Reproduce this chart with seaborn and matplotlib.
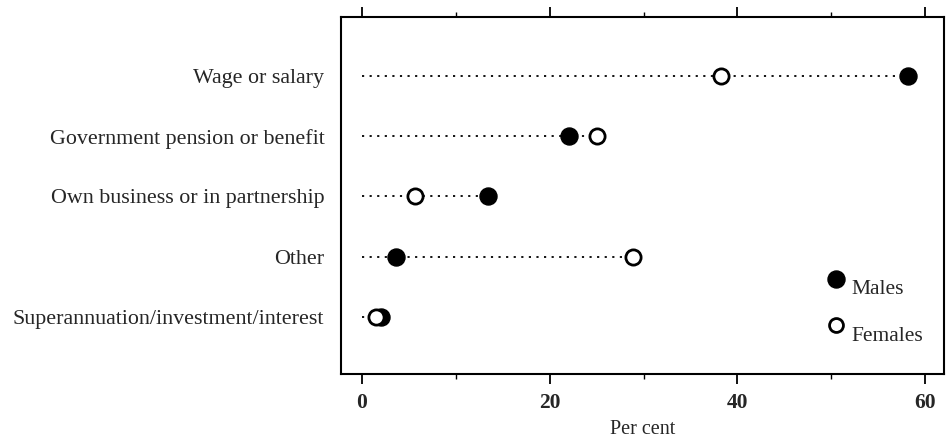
import matplotlib
matplotlib.use("Agg")
import matplotlib.pyplot as plt
import seaborn as sns
import pandas as pd
import numpy as np
from matplotlib.ticker import MultipleLocator

categories = ["Wage or salary", "Government pension or benefit",
              "Own business or in partnership", "Other",
              "Superannuation/investment/interest"]
males = [58.2, 22.1, 13.4, 3.7, 2.1]
females = [38.3, 25.0, 5.7, 28.9, 1.5]
xticks = [0, 20, 40, 60]

sns.set_theme(style="white")
plt.rcParams['font.family'] = ['Liberation Serif', 'DejaVu Serif']

fig = plt.figure(figsize=(9.46, 4.44), dpi=100)
ax = fig.add_axes([0.3605, 0.1577, 0.998 - 0.3605, 0.9617 - 0.1577])

df = pd.DataFrame({"cat": categories, "Males": males, "Females": females})
df["ypos"] = np.arange(len(categories))
df["mx"] = df[["Males", "Females"]].max(axis=1)

ax.hlines(df["ypos"], 0, df["mx"], colors="black", linestyles=(0, (1.2, 3.0)),
          linewidth=1.3, zorder=1)
sns.scatterplot(data=df, x="Males", y="ypos", ax=ax, color="black", s=150,
                edgecolor="black", linewidth=1, zorder=3)
sns.scatterplot(data=df, x="Females", y="ypos", ax=ax, color="white", s=120,
                edgecolor="black", linewidth=2, zorder=3)

ax.set_xlim(-2.2, 62.0)
ax.set_ylim(4.95, -0.98)
ax.set_yticks(df["ypos"])
ax.set_yticklabels(categories, fontsize=15.8)
ax.set_xticks(xticks)
ax.set_xticklabels([str(v) for v in xticks], fontsize=15.5, fontweight="bold")
ax.xaxis.set_minor_locator(MultipleLocator(10))
ax.tick_params(axis="x", which="major", direction="out", length=7, width=1.3,
               top=True, bottom=True, pad=7, color="black")
ax.tick_params(axis="x", which="minor", direction="out", length=3.5, width=1.0,
               top=True, bottom=True, color="black")
ax.tick_params(axis="y", length=0, pad=12)
ax.set_xlabel("Per cent", fontsize=14.5, labelpad=5)
ax.set_ylabel("")
for s in ax.spines.values():
    s.set_visible(True)
    s.set_color("black")
    s.set_linewidth(1.5)

# legend
ax.scatter([0.821], [0.266], transform=ax.transAxes, s=150, color="black",
           zorder=5, clip_on=False)
ax.text(0.847, 0.238, "Males", transform=ax.transAxes, fontsize=15.5, va="center")
ax.scatter([0.821], [0.137], transform=ax.transAxes, s=100, facecolor="white",
           edgecolor="black", linewidth=2, zorder=5, clip_on=False)
ax.text(0.847, 0.106, "Females", transform=ax.transAxes, fontsize=15.5, va="center")

fig.savefig("out.png", dpi=100)
